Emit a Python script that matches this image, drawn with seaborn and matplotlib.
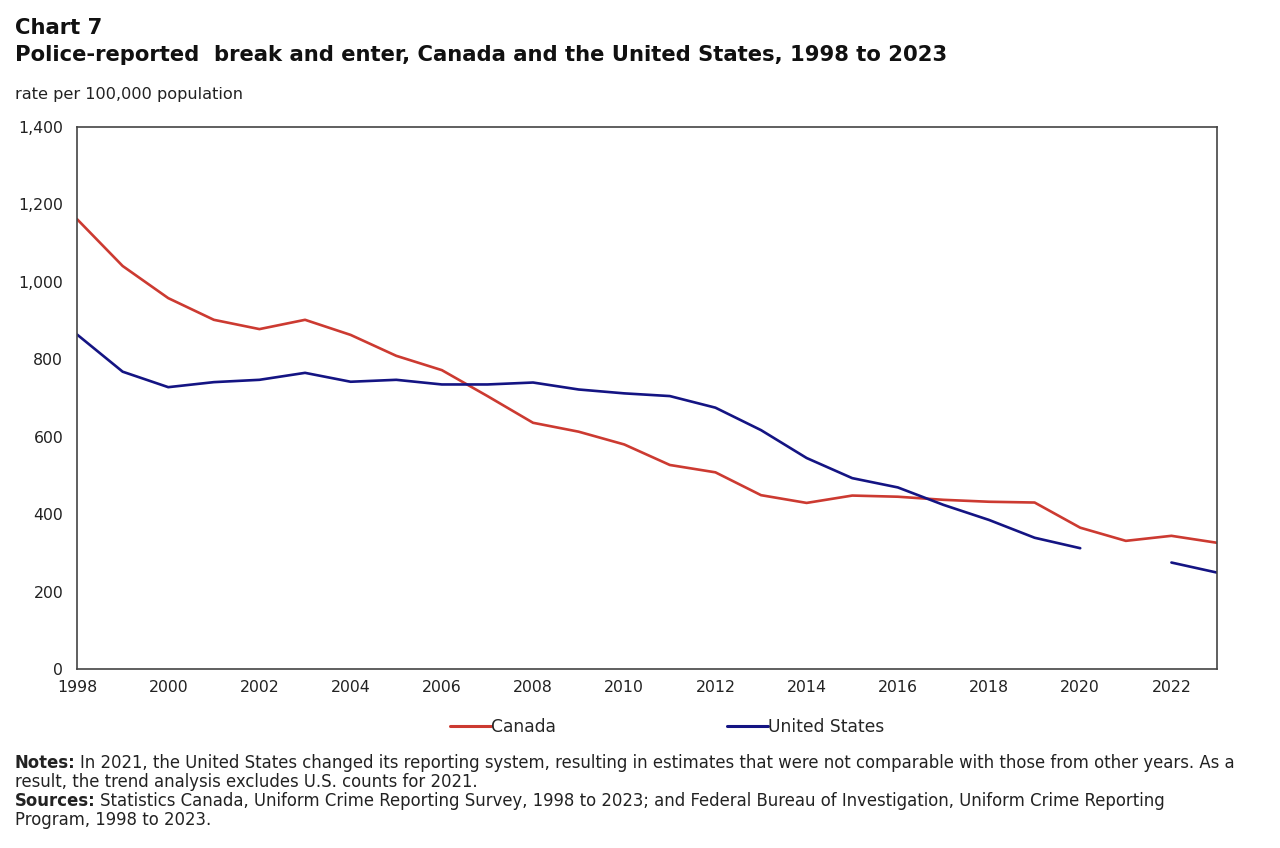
import numpy as np
import pandas as pd
import matplotlib
matplotlib.use("Agg")
import matplotlib.pyplot as plt
import seaborn as sns
from matplotlib.lines import Line2D

years = list(range(1998, 2024))
canada = [1162, 1041, 958, 902, 878, 902, 863, 809, 772, 705, 636, 613, 580, 527, 508, 449, 429, 448, 445, 437, 432, 430, 365, 331, 344, 326]
united_states = [864, 768, 728, 741, 747, 765, 742, 747, 735, 735, 740, 722, 712, 705, 675, 617, 545, 493, 469, 424, 385, 339, 312, np.nan, 275, 249]

series_names = ["Canada", "United States"]
colors = {"Canada": "#cc3a31", "United States": "#141483"}

sns.set_theme(style="white")
plt.rcParams["font.family"] = ["DejaVu Sans"]

fig = plt.figure(figsize=(12.8, 8.48), dpi=100)
ax = fig.add_axes([0.0602, 0.2111, 0.8906, 0.6391])

df = pd.DataFrame({"year": years, "Canada": canada, "United States": united_states})

for name in series_names:
    s = df[["year", name]].copy()
    s["seg"] = s[name].isna().cumsum()
    s = s.dropna()
    for _, part in s.groupby("seg"):
        sns.lineplot(data=part, x="year", y=name, ax=ax, color=colors[name],
                     linewidth=1.9, estimator=None, legend=False)

ax.set_xlim(1998, 2023)
ax.set_ylim(0, 1400)
ax.set_xticks(years)
ax.set_xticklabels([str(y) if (y % 2 == 0) else "" for y in years])
ax.set_yticks(range(0, 1401, 200))
ax.set_yticklabels([f"{v:,}" for v in range(0, 1401, 200)])
ax.set_xlabel("")
ax.set_ylabel("")
ax.tick_params(axis="both", direction="in", length=5, width=1, color="#333333",
               labelsize=11.3, labelcolor="#222222")
ax.tick_params(axis="x", pad=8)
ax.tick_params(axis="y", pad=10)
for sp in ax.spines.values():
    sp.set_color("#444444")
    sp.set_linewidth(1.2)

fig.text(15/1280, 1 - 28/848, "Chart 7", fontsize=15.2, fontweight="bold",
         color="#111111", va="center", ha="left")
fig.text(15/1280, 1 - 55/848,
         "Police-reported  break and enter, Canada and the United States, 1998 to 2023",
         fontsize=15.2, fontweight="bold", color="#111111", va="center", ha="left")
fig.text(15/1280, 1 - 95/848, "rate per 100,000 population", fontsize=11.6,
         color="#222222", va="center", ha="left")

handles = [Line2D([0], [0], color=colors[n], linewidth=2.2) for n in series_names]
fig.legend(handles, series_names, loc="center", bbox_to_anchor=(0.521, 1 - 727/848),
           ncol=2, frameon=False, fontsize=12.3, handlelength=2.4, handletextpad=0.0,
           columnspacing=10.0)

fig.canvas.draw()
renderer = fig.canvas.get_renderer()
fs = 11.9

def note_line(y_px, bold, rest):
    x0 = 15 / 1280
    y = 1 - y_px / 848
    if bold:
        t = fig.text(x0, y, bold, fontsize=fs, fontweight="bold", color="#222222",
                     va="center", ha="left")
        bb = t.get_window_extent(renderer=renderer)
        x0 = (bb.x1 + 4) / 1280
    fig.text(x0, y, rest, fontsize=fs, color="#222222", va="center", ha="left")

note_line(763, "Notes:", "In 2021, the United States changed its reporting system, resulting in estimates that were not comparable with those from other years. As a")
note_line(782, None, "result, the trend analysis excludes U.S. counts for 2021.")
note_line(801, "Sources:", "Statistics Canada, Uniform Crime Reporting Survey, 1998 to 2023; and Federal Bureau of Investigation, Uniform Crime Reporting")
note_line(820, None, "Program, 1998 to 2023.")

fig.savefig("out.png", dpi=100)
